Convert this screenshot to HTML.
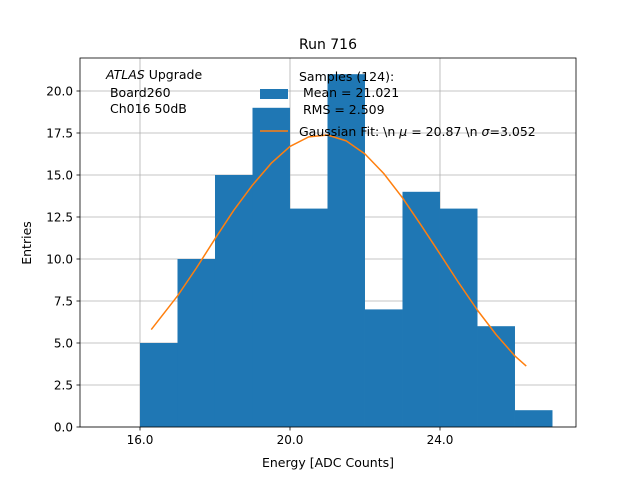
<!DOCTYPE html>
<html><head><meta charset="utf-8"><style>
body{margin:0;background:#fff;font-family:"DejaVu Sans","Liberation Sans",sans-serif}
svg text{font-family:"DejaVu Sans","Liberation Sans",sans-serif;fill:#000;white-space:pre}
</style></head><body>
<svg id="chart" width="640" height="480" xmlns="http://www.w3.org/2000/svg" xml:space="preserve">
<rect width="640" height="480" fill="#fff"/>
<text x="328" y="49" font-size="14" text-anchor="middle">Run 716</text>
<g id="grid"></g><g id="bars"></g><g id="curve"></g><g id="axes"></g>
<text x="328" y="467" font-size="12.5" text-anchor="middle">Energy [ADC Counts]</text>
<text transform="translate(31,243) rotate(-90)" font-size="12.5" text-anchor="middle">Entries</text>
<g font-size="12.5">
<text x="106" y="79"><tspan font-style="italic">ATLAS</tspan> Upgrade</text>
<text x="106" y="97"> Board260</text>
<text x="106" y="113"> Ch016 50dB</text>
</g>
<g font-size="12.5">
<text x="299" y="81">Samples (124):</text>
<rect x="260" y="89" width="28" height="10" fill="#1f77b4"/>
<text x="299" y="97"> Mean = 21.021</text>
<text x="299" y="114"> RMS = 2.509</text>
<line x1="260" y1="131" x2="288" y2="131" stroke="#ff7f0e" stroke-width="1.5"/>
<text x="299" y="136">Gaussian Fit: \n <tspan font-style="italic">μ</tspan> = 20.87 \n <tspan font-style="italic">σ</tspan>=3.052</text>
</g>
</svg>
<script>
const binEdges=[16,17,18,19,20,21,22,23,24,25,26,27];
const binCounts=[5,10,15,19,13,21,7,14,13,6,1];
const fitX=[16.3,17,17.5,18,18.5,19,19.5,20,20.5,21,21.5,22,22.5,23,23.5,24,24.5,25,25.5,26,26.3];
const fitY=[5.8,7.8,9.45,11.2,12.9,14.4,15.7,16.7,17.27,17.38,17.03,16.25,15.09,13.64,12.0,10.3,8.58,6.95,5.49,4.22,3.63];
const xTicks=[16,20,24];
const xTickLabels=["16.0","20.0","24.0"];
const yTicks=[0,2.5,5,7.5,10,12.5,15,17.5,20];
const yTickLabels=["0.0","2.5","5.0","7.5","10.0","12.5","15.0","17.5","20.0"];
const L=80,R=576,T=58,B=427;
const xMin=14.4,xMax=27.627,yMax=21.964;
const sx=v=>L+(v-xMin)/(xMax-xMin)*(R-L);
const sy=v=>B-v/yMax*(B-T);
const NS="http://www.w3.org/2000/svg";
function mk(t,a,p){const e=document.createElementNS(NS,t);for(const k in a)e.setAttribute(k,a[k]);p.appendChild(e);return e;}
const grid=document.getElementById('grid'),bars=document.getElementById('bars'),curve=document.getElementById('curve'),axes=document.getElementById('axes');
xTicks.forEach((v,i)=>{
 const g=mk('line',{x1:sx(v),x2:sx(v),y1:T,y2:B,stroke:'#b0b0b0','stroke-width':0.8},grid);
 
 
 mk('line',{x1:sx(v),x2:sx(v),y1:B,y2:B+3.5,stroke:'#000','stroke-width':0.8},axes);
 const t=mk('text',{x:sx(v),y:B+17,'font-size':12,'text-anchor':'middle'},axes);t.textContent=xTickLabels[i];
 
 
});
yTicks.forEach((v,i)=>{
 const g=mk('line',{x1:L,x2:R,y1:sy(v),y2:sy(v),stroke:'#b0b0b0','stroke-width':0.8},grid);
 
 
 mk('line',{x1:L-3.5,x2:L,y1:sy(v),y2:sy(v),stroke:'#000','stroke-width':0.8},axes);
 const t=mk('text',{x:L-7,y:sy(v)+4.5,'font-size':12,'text-anchor':'end'},axes);t.textContent=yTickLabels[i];
 
 
});
binCounts.forEach((c,i)=>{
 const r=mk('rect',{x:sx(binEdges[i]),y:sy(c),width:sx(binEdges[i+1])-sx(binEdges[i]),height:B-sy(c),fill:'#1f77b4'},bars);
 
 
});
const p=mk('polyline',{points:fitX.map((x,i)=>sx(x)+','+sy(fitY[i])).join(' '),fill:'none',stroke:'#ff7f0e','stroke-width':1.5,'stroke-linejoin':'round'},curve);


const f=mk('rect',{x:L,y:T,width:R-L,height:B-T,fill:'none',stroke:'#000','stroke-width':0.8},axes);


</script>
</body></html>
